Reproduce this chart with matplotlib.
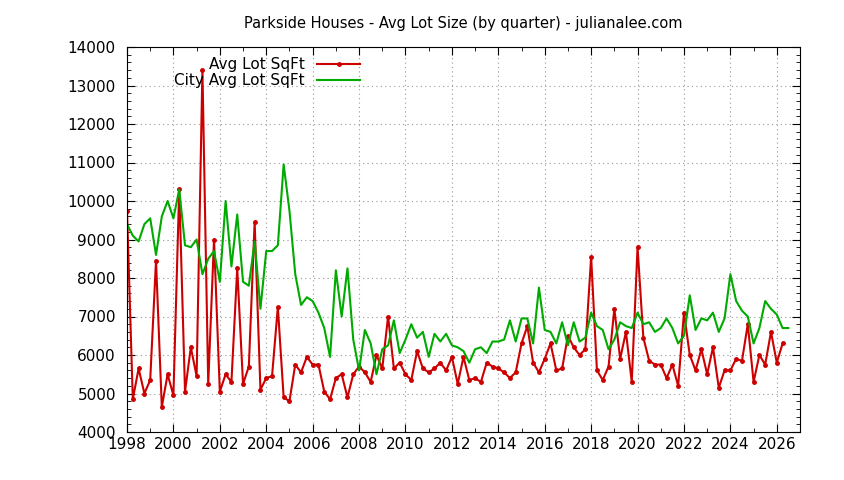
import matplotlib
matplotlib.use("Agg")
import matplotlib.pyplot as plt
from matplotlib.ticker import MultipleLocator

avg_lot = [9750, 4850, 5650, 5000, 5350, 8450, 4650, 5500, 4950, 10300, 5050, 6200, 5450, 13400, 5250, 9000,
           5050, 5500, 5300, 8250, 5250, 5700, 9450, 5100, 5400, 5450, 7250, 4900, 4800, 5750, 5550, 5950,
           5750, 5750, 5050, 4850, 5400, 5500, 4900, 5500, 5700, 5550, 5300, 6000, 5650, 7000, 5650, 5800,
           5500, 5350, 6100, 5650, 5550, 5650, 5800, 5600, 5950, 5250, 5950, 5350, 5400, 5300, 5800, 5700,
           5650, 5550, 5400, 5550, 6300, 6750, 5800, 5550, 5900, 6300, 5600, 5650, 6500, 6200, 6000, 6150,
           8550, 5600, 5350, 5700, 7200, 5900, 6600, 5300, 8800, 6450, 5850, 5750, 5750, 5400, 5750, 5200,
           7100, 6000, 5600, 6150, 5500, 6200, 5150, 5600, 5600, 5900, 5850, 6800, 5300, 6000, 5750, 6600,
           5800, 6300]
city_lot = [9400, 9100, 8950, 9400, 9550, 8600, 9600, 10000, 9550, 10300, 8850, 8800, 9000, 8100, 8500, 8700,
            7900, 10000, 8300, 9650, 7900, 7800, 8950, 7200, 8700, 8700, 8850, 10950, 9750, 8100, 7300, 7500,
            7400, 7100, 6700, 5950, 8200, 7000, 8250, 6400, 5600, 6650, 6300, 5500, 6150, 6250, 6900, 6050,
            6400, 6800, 6450, 6600, 5950, 6550, 6350, 6550, 6250, 6200, 6100, 5800, 6150, 6200, 6050, 6350,
            6350, 6400, 6900, 6350, 6950, 6950, 6300, 7750, 6650, 6600, 6300, 6850, 6250, 6850, 6350, 6450,
            7100, 6750, 6650, 6150, 6400, 6850, 6750, 6700, 7100, 6800, 6850, 6600, 6700, 6950, 6700, 6300,
            6500, 7550, 6650, 6950, 6900, 7100, 6600, 6950, 8100, 7400, 7150, 7000, 6300, 6700, 7400, 7200,
            7050, 6700, 6700]
start_year = 1998

x_avg = [start_year + 0.25 * i for i in range(len(avg_lot))]
x_city = [start_year + 0.25 * i for i in range(len(city_lot))]

fig = plt.figure(figsize=(8.44, 4.8), dpi=100)
ax = fig.add_axes([127/844, 1 - 432/480, (800-127)/844, (432-47)/480])
ax.plot(x_avg, avg_lot, color="#cc0000", lw=1.5, marker="o", ms=2.5, label="Avg Lot SqFt")
ax.plot(x_city, city_lot, color="#00aa00", lw=1.5, label="City Avg Lot SqFt")
ax.set_xlim(1998, 2027)
ax.set_ylim(4000, 14000)
ax.xaxis.set_major_locator(MultipleLocator(2))
ax.yaxis.set_major_locator(MultipleLocator(1000))
ax.xaxis.set_minor_locator(MultipleLocator(1))
ax.yaxis.set_minor_locator(MultipleLocator(200))
ax.tick_params(which="both", direction="in", top=True, right=True, labelsize=11)
ax.tick_params(axis="y", which="major", pad=8)
ax.tick_params(which="major", length=6)
ax.tick_params(which="minor", length=3)
ax.grid(True, which="major", color="#999999", linestyle=(0, (1, 3)), lw=0.8)
ax.set_title("Parkside Houses - Avg Lot Size (by quarter) - julianalee.com", fontsize=10.5, pad=14)
ax.legend(loc="upper left", bbox_to_anchor=(0.05, 1.01), frameon=False, markerfirst=False,
          fontsize=11, handlelength=2.8, labelspacing=0.1)
fig.savefig("out.png", dpi=100)
